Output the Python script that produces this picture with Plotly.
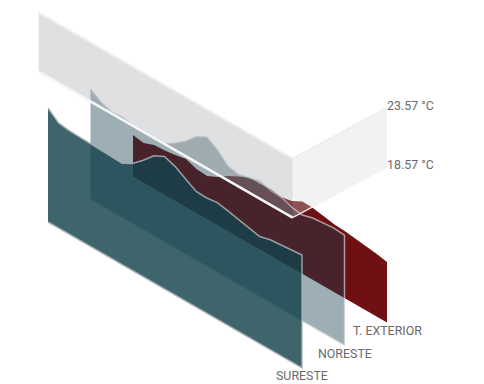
import plotly.graph_objects as go

hours = list(range(25))
sureste = [15.06,14.31,14.18,14.16,14.09,14.09,14.04,13.99,14.48,15.28,16.16,16.62,16.30,15.75,15.21,15.17,15.29,15.10,14.89,14.64,14.48,14.72,14.83,14.89,14.98]
noreste = [14.74,14.15,13.82,13.91,13.75,13.76,13.68,13.73,14.28,14.97,15.87,16.34,15.76,14.91,14.71,14.93,15.19,14.94,14.86,14.53,14.37,14.63,14.72,14.81,14.73]
exterior = [8.91,8.75,9.09,9.14,9.27,9.45,9.12,9.04,9.47,10.07,10.54,10.98,10.94,11.03,10.87,11.04,11.52,11.48,11.32,11.15,11.08,10.96,10.88,10.71,10.51]
series_names = ["T. EXTERIOR", "NORESTE", "SURESTE"]
series_values = [exterior, noreste, sureste]
series_depth = [2, 1, 0]
series_fill = ["rgba(111,16,20,1)", "rgba(21,62,78,0.42)", "rgba(20,66,76,0.82)"]
series_line = ["rgba(111,16,20,0)", "rgba(205,212,216,0.7)", "rgba(172,177,180,0.85)"]
band_low, band_high = 18.57, 23.57
band_labels = ["23.57 °C", "18.57 °C"]
base_temp = 5.4
wall_depth = -0.22
back_depth = 2.0

def px(h, d):
    return 48 + 254 * h / 24 + 42.5 * d

def py(h, d, v):
    return 222 + 146 * h / 24 - 22.8 * d - 11.8 * (v - base_temp)

fig = go.Figure()

for vals, d, fill, line in zip(series_values, series_depth, series_fill, series_line):
    xs = [px(h, d) for h in hours] + [px(hours[-1], d), px(hours[0], d)]
    ys = [py(h, d, v) for h, v in zip(hours, vals)] + [py(hours[-1], d, base_temp), py(hours[0], d, base_temp)]
    fig.add_trace(go.Scatter(x=xs, y=ys, mode="lines", fill="toself", fillcolor=fill,
                             line=dict(color=line, width=1.5), hoverinfo="skip", showlegend=False))

h0, h1 = hours[0], hours[-1]
fig.add_trace(go.Scatter(
    x=[px(h0, wall_depth), px(h1, wall_depth), px(h1, wall_depth), px(h0, wall_depth), px(h0, wall_depth)],
    y=[py(h0, wall_depth, band_high), py(h1, wall_depth, band_high), py(h1, wall_depth, band_low), py(h0, wall_depth, band_low), py(h0, wall_depth, band_high)],
    mode="lines", fill="toself", fillcolor="rgba(163,166,171,0.344)",
    line=dict(color="rgba(0,0,0,0)", width=0), hoverinfo="skip", showlegend=False))
fig.add_trace(go.Scatter(
    x=[px(h1, wall_depth), px(h1, back_depth), px(h1, back_depth), px(h1, wall_depth), px(h1, wall_depth)],
    y=[py(h1, wall_depth, band_high), py(h1, back_depth, band_high), py(h1, back_depth, band_low), py(h1, wall_depth, band_low), py(h1, wall_depth, band_high)],
    mode="lines", fill="toself", fillcolor="rgba(214,216,216,0.33)",
    line=dict(color="rgba(0,0,0,0)", width=0), hoverinfo="skip", showlegend=False))
# edges of the band
fig.add_trace(go.Scatter(
    x=[px(h0, wall_depth), px(h1, wall_depth), px(h1, back_depth)],
    y=[py(h0, wall_depth, band_high), py(h1, wall_depth, band_high), py(h1, back_depth, band_high)],
    mode="lines", line=dict(color="rgba(238,239,240,1)", width=2), hoverinfo="skip", showlegend=False))
fig.add_trace(go.Scatter(
    x=[px(h1, wall_depth), px(h1, back_depth)],
    y=[py(h1, wall_depth, band_low), py(h1, back_depth, band_low)],
    mode="lines", line=dict(color="rgba(242,243,243,0.9)", width=1.5), hoverinfo="skip", showlegend=False))
fig.add_trace(go.Scatter(
    x=[px(h0, wall_depth), px(h1, wall_depth)],
    y=[py(h0, wall_depth, band_low), py(h1, wall_depth, band_low)],
    mode="lines", line=dict(color="rgba(246,246,247,1)", width=2.5), hoverinfo="skip", showlegend=False))

font = dict(family="Roboto", size=12.4, color="#6a6a6a")
annotations = []
for name, d, shift in zip(series_names, series_depth, [1, 1, 2.5]):
    annotations.append(dict(x=px(h1, d), y=py(h1, d, base_temp), text=name, xref="x", yref="y",
                            showarrow=False, xanchor="center", yanchor="top", yshift=shift, font=font))
for label, v in zip(band_labels, [band_high, band_low]):
    annotations.append(dict(x=px(h1, back_depth), y=py(h1, back_depth, v), text=label, xref="x", yref="y",
                            showarrow=False, xanchor="left", yanchor="middle", xshift=-2, yshift=2, font=font))

fig.update_layout(
    width=484, height=384, margin=dict(l=0, r=0, t=0, b=0),
    paper_bgcolor="white", plot_bgcolor="white",
    xaxis=dict(range=[0, 484], visible=False, fixedrange=True),
    yaxis=dict(range=[384, 0], visible=False, fixedrange=True),
    annotations=annotations, showlegend=False)

fig.write_html("out.html", config={"displayModeBar": False},
               post_script="document.body.style.margin='0';")
